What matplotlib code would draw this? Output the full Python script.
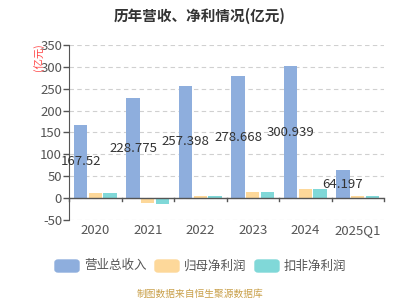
import matplotlib
matplotlib.use("Agg")
import matplotlib.pyplot as plt
import numpy as np
from matplotlib.patches import FancyBboxPatch

plt.rcParams['font.family'] = ['Noto Sans CJK SC', 'DejaVu Sans']

categories = ["2020", "2021", "2022", "2023", "2024", "2025Q1"]
revenue = [167.52, 228.775, 257.398, 278.668, 300.939, 64.197]
net_profit = [11, -11, 5, 15, 21, 4.5]
deducted_profit = [11, -13, 4.5, 13, 21, 4]
revenue_labels = ["167.52", "228.775", "257.398", "278.668", "300.939", "64.197"]
series_names = ["营业总收入", "归母净利润", "扣非净利润"]
yticks = [-50, 0, 50, 100, 150, 200, 250, 300, 350]

colors = ["#8eaedd", "#fdd89a", "#80d8d8"]

fig = plt.figure(figsize=(4, 3), dpi=100)
ax = fig.add_axes([0.1725, 0.2667, 0.7875, 0.5833])

x = np.arange(len(categories))
w = 0.25
gap = 0.03
for i, (vals, c) in enumerate(zip([revenue, net_profit, deducted_profit], colors)):
    ax.bar(x + (i - 1) * (w + gap), vals, width=w, color=c, zorder=3)

for xi, v, lab in zip(x, revenue, revenue_labels):
    ax.text(xi - (w + gap), v / 2, lab, ha="center", va="center", fontsize=9.5,
            color="#333333", zorder=4)

ax.set_xlim(-0.5, len(categories) - 0.5)
ax.set_ylim(-50, 350)
ax.set_yticks(yticks)
ax.set_yticklabels([str(t) for t in yticks], fontsize=9.5, color="#555555")
ax.set_xticks(x)
ax.set_xticklabels(categories, fontsize=9.5, color="#555555")
ax.tick_params(axis="x", length=0, pad=3)
ax.tick_params(axis="y", length=4, color="#555555", width=1, pad=1)

for s in ["top", "right", "bottom"]:
    ax.spines[s].set_visible(False)
ax.spines["left"].set_color("#555555")
ax.grid(axis="y", linestyle=(0, (4, 3)), color="#d0d0d0", linewidth=0.8, zorder=0)
ax.axhline(0, color="#555555", linewidth=1, zorder=4)
for b in np.arange(-0.5, len(categories), 1.0):
    ax.plot([b, b], [0, -6], color="#555555", linewidth=1, zorder=4, clip_on=False)

fig.text(38.5 / 400, 1 - 57 / 300, "(亿元)", rotation=90, color="#ff4444", fontsize=7.5,
         ha="center", va="center")
fig.text(0.5, 0.948, "历年营收、净利情况(亿元)", ha="center", va="center",
         fontsize=10.5, fontweight="bold", color="#333333")

legx = [55, 155, 255]
for lx, name, c in zip(legx, series_names, colors):
    patch = FancyBboxPatch((lx / 400, (300 - 272) / 300), 24 / 400, 12 / 300,
                           boxstyle="round,pad=0,rounding_size=0.008",
                           transform=fig.transFigure, color=c)
    fig.patches.append(patch)
    fig.text((lx + 29) / 400, (300 - 266) / 300, name, fontsize=9,
             color="#555555", ha="left", va="center")

fig.text(0.5, (300 - 294) / 300, "制图数据来自恒生聚源数据库", fontsize=7,
         color="#c9a04a", ha="center", va="center")

fig.savefig("out.png", dpi=100)
